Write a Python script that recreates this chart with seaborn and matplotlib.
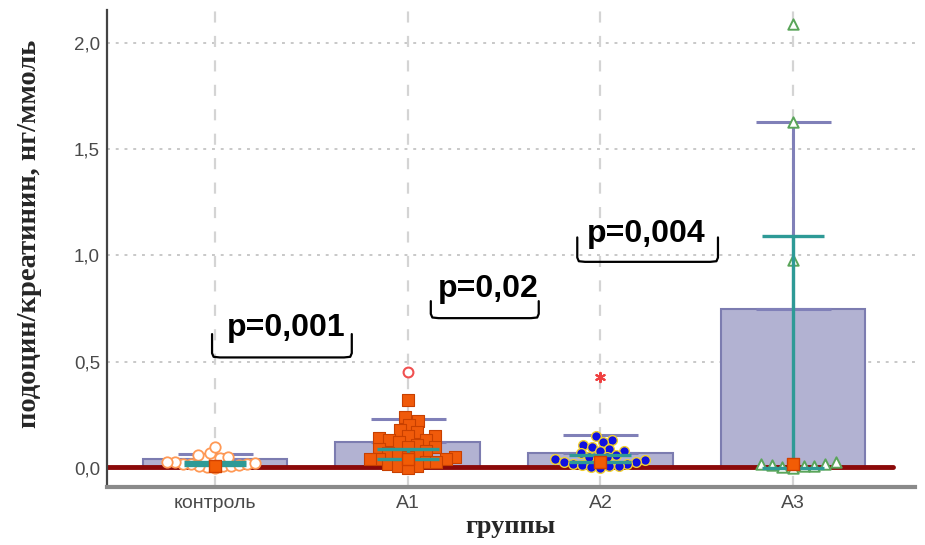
import warnings
warnings.filterwarnings("ignore")
import numpy as np
import pandas as pd
import matplotlib
matplotlib.use("Agg")
import matplotlib.pyplot as plt
import seaborn as sns

# ---- data ----
groups = ["контроль", "A1", "A2", "A3"]
bar_heights = [0.04, 0.12, 0.07, 0.75]
upper_whisker = [0.065, 0.23, 0.155, 1.63]
medians = [0.01, 0.04, 0.03, 0.02]
median_ci_low = [0.015, 0.04, 0.03, 0.0]
median_ci_high = [0.03, 0.09, 0.06, 1.09]

control_vals = [0.0, 0.005, 0.01, 0.01, 0.01, 0.015, 0.02, 0.02, 0.02, 0.025,
                0.03, 0.03, 0.035, 0.04, 0.045, 0.05, 0.06, 0.07, 0.1]
a1_vals = [0.32, 0.24, 0.22, 0.2, 0.18, 0.17, 0.15, 0.15, 0.14, 0.13, 0.13,
           0.12, 0.11, 0.1, 0.1, 0.09, 0.08, 0.07, 0.06, 0.06, 0.05, 0.05,
           0.04, 0.04, 0.04, 0.03, 0.03, 0.02, 0.01, 0.01, 0.0]
a2_vals = [0.15, 0.13, 0.12, 0.11, 0.1, 0.09, 0.08, 0.08, 0.07, 0.06, 0.05,
           0.05, 0.04, 0.04, 0.035, 0.03, 0.03, 0.02, 0.02, 0.015, 0.01, 0.01,
           0.005, 0.0]
a3_vals = [2.09, 1.63, 0.98, 0.0, 0.005, 0.01, 0.01, 0.015, 0.02, 0.02, 0.03]
outlier_groups = ["A1", "A2"]
outlier_vals = [0.45, 0.43]

p_texts = ["p=0,001", "p=0,02", "p=0,004"]
p_x = [0.37, 1.42, 2.24]
p_y = [0.66, 0.84, 1.10]
bracket_left = [-0.015, 1.12, 1.88]
bracket_right = [0.71, 1.68, 2.61]
bracket_bottom = [0.52, 0.705, 0.97]
bracket_top = [0.63, 0.785, 1.085]

# ---- figure ----
sns.set_theme(style="white")
plt.rcParams["font.family"] = ["Liberation Sans", "DejaVu Sans"]
fig = plt.figure(figsize=(9.25, 5.45), dpi=100)
ax = fig.add_axes([0.1157, 0.1064, 0.873, 0.875])

XLIM = (-0.56, 3.63)
YLIM = (-0.09, 2.155)
ax.set_xlim(*XLIM)
ax.set_ylim(*YLIM)

# grid
for yv in [0.5, 1.0, 1.5, 2.0]:
    ax.axhline(yv, color="#c8c8c8", lw=1.4, ls=(0, (1.5, 3)), zorder=0)
for i in range(len(groups)):
    ax.axvline(i, color="#d4d4d4", lw=1.6, ls=(0, (5, 6)), zorder=0)

bar_df = pd.DataFrame({"group": groups, "value": bar_heights})
sns.barplot(data=bar_df, x="group", y="value", order=groups, ax=ax,
            color="#b2b2d2", edgecolor="#7c7cb0", linewidth=1.5,
            width=0.75, saturation=1, errorbar=None, zorder=1)
ax.set_xlim(*XLIM)

xs = np.arange(len(groups))
ax.axhline(0.005, xmin=0, xmax=(3.52 - XLIM[0]) / (XLIM[1] - XLIM[0]),
           color="#8b0a0a", lw=3.5, zorder=2)

# purple whiskers
ax.errorbar(xs, bar_heights,
            yerr=[np.zeros(len(groups)), np.array(upper_whisker) - np.array(bar_heights)],
            fmt="none", ecolor="#8080b8", elinewidth=2.2, capsize=27, capthick=2.2, zorder=3)

# points (swarm layout computed with compact markers, then shown slightly larger)
long_df = pd.DataFrame({
    "group": (["контроль"] * len(control_vals) + ["A1"] * len(a1_vals)
              + ["A2"] * len(a2_vals) + ["A3"] * len(a3_vals)),
    "value": control_vals + a1_vals + a2_vals + a3_vals,
})
styles = {
    "контроль": dict(marker="o", color="white", edgecolor="#ff9955", linewidth=1.3, size=4.3),
    "A1": dict(marker="s", color="#f05a0a", edgecolor="#c84000", linewidth=0.8, size=6.0),
    "A2": dict(marker="o", color="#1010e0", edgecolor="#f0d030", linewidth=1.0, size=5.3),
    "A3": dict(marker="^", color="white", edgecolor="#5aa55a", linewidth=1.4, size=6.0),
}
display_size = {"контроль": 7.5, "A1": 8.5, "A2": 7.0, "A3": 7.5}
swarm_colls = {}
for g in groups:
    sub = long_df[long_df["group"] == g]
    n_before = len(ax.collections)
    sns.swarmplot(data=sub, x="group", y="value", order=groups, ax=ax,
                  zorder=4, **styles[g])
    swarm_colls[g] = list(ax.collections[n_before:])
ax.set_xlim(*XLIM)
ax.set_ylim(*YLIM)
fig.canvas.draw()
for g, colls in swarm_colls.items():
    for coll in colls:
        if "draw" in coll.__dict__:
            del coll.__dict__["draw"]
        coll.set_sizes([display_size[g] ** 2])

# teal median CI
lo = np.array(median_ci_low)
hi = np.array(median_ci_high)
ax.errorbar(xs, (lo + hi) / 2, yerr=(hi - lo) / 2,
            fmt="none", ecolor="#2e9a96", elinewidth=2.4, capsize=22, capthick=2.4, zorder=5)
# median squares
ax.scatter(xs, medians, marker="s", s=70, color="#f25c05", edgecolor="#d04000", zorder=6)

# outliers
ax.scatter([groups.index(outlier_groups[0])], [outlier_vals[0]], marker="o", s=50,
           facecolor="white", edgecolor="#f05050", linewidth=1.5, zorder=6)
ax.scatter([groups.index(outlier_groups[1])], [outlier_vals[1]], marker=(6, 2, 0), s=45,
           color="#f04040", linewidth=1.5, zorder=6)

# p-value brackets
for t, tx, ty, l, r, b, tp in zip(p_texts, p_x, p_y, bracket_left, bracket_right,
                                  bracket_bottom, bracket_top):
    dx = 0.04
    dy = 0.02
    xb = [l, l, l + dx * 0.2, l + dx, r - dx, r - dx * 0.2, r, r]
    yb = [tp, b + dy, b + dy * 0.15, b, b, b + dy * 0.15, b + dy, tp]
    ax.plot(xb, yb, color="black", lw=1.6, zorder=7, solid_capstyle="round")
    ax.text(tx, ty, t, ha="center", va="center", fontsize=23, fontweight="bold",
            color="black", zorder=8)

# axes styling
ax.set_yticks([0.0, 0.5, 1.0, 1.5, 2.0])
ax.set_yticklabels(["0,0", "0,5", "1,0", "1,5", "2,0"])
ax.set_xticks(xs)
ax.set_xticklabels(groups)
ax.tick_params(axis="both", direction="in", length=10, width=1.5, colors="#333333",
               labelcolor="#4a4a4a")
ax.tick_params(axis="x", pad=6, labelsize=14)
ax.tick_params(axis="y", pad=5, labelsize=13.5)
for s in ["top", "right"]:
    ax.spines[s].set_visible(False)
ax.spines["left"].set_color("#444444")
ax.spines["left"].set_linewidth(1.6)
ax.spines["bottom"].set_color("#8a8a8a")
ax.spines["bottom"].set_linewidth(3)

ax.set_xlabel("группы", fontsize=19, fontweight="bold", family=["Liberation Serif"],
              labelpad=2)
ax.set_ylabel("подоцин/креатинин, нг/ммоль", fontsize=20.5, fontweight="bold",
              family=["Liberation Serif"])
ax.yaxis.set_label_coords(-0.08, 0.53)
ax.grid(False)

fig.savefig("out.png", dpi=100)
